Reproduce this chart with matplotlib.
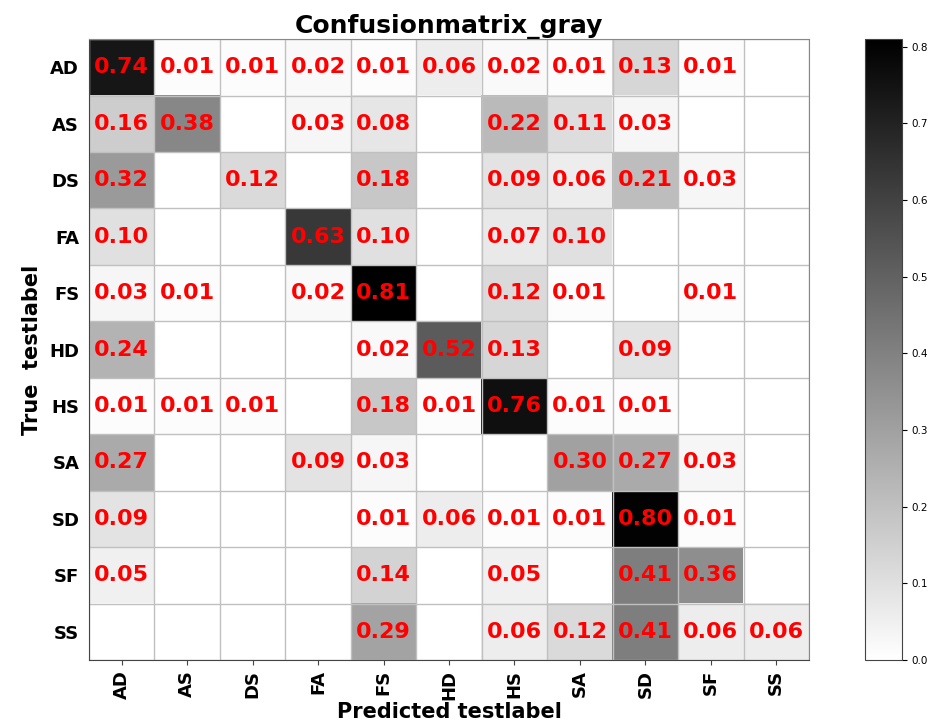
import numpy as np
import matplotlib
matplotlib.use("Agg")
from matplotlib import pyplot as plt

labels = ['AD', 'AS', 'DS', 'FA', 'FS', 'HD', 'HS', 'SA', 'SD', 'SF', 'SS']

# rows = true label, cols = predicted label
row_AD = [0.74, 0.01, 0.01, 0.02, 0.01, 0.06, 0.02, 0.01, 0.13, 0.01, 0.00]
row_AS = [0.16, 0.38, 0.00, 0.03, 0.08, 0.00, 0.22, 0.11, 0.03, 0.00, 0.00]
row_DS = [0.32, 0.00, 0.12, 0.00, 0.18, 0.00, 0.09, 0.06, 0.21, 0.03, 0.00]
row_FA = [0.10, 0.00, 0.00, 0.63, 0.10, 0.00, 0.07, 0.10, 0.00, 0.00, 0.00]
row_FS = [0.03, 0.01, 0.00, 0.02, 0.81, 0.00, 0.12, 0.01, 0.00, 0.01, 0.00]
row_HD = [0.24, 0.00, 0.00, 0.00, 0.02, 0.52, 0.13, 0.00, 0.09, 0.00, 0.00]
row_HS = [0.01, 0.01, 0.01, 0.00, 0.18, 0.01, 0.76, 0.01, 0.01, 0.00, 0.00]
row_SA = [0.27, 0.00, 0.00, 0.09, 0.03, 0.00, 0.00, 0.30, 0.27, 0.03, 0.00]
row_SD = [0.09, 0.00, 0.00, 0.00, 0.01, 0.06, 0.01, 0.01, 0.80, 0.01, 0.00]
row_SF = [0.05, 0.00, 0.00, 0.00, 0.14, 0.00, 0.05, 0.00, 0.41, 0.36, 0.00]
row_SS = [0.00, 0.00, 0.00, 0.00, 0.29, 0.00, 0.06, 0.12, 0.41, 0.06, 0.06]

cm = np.array([row_AD, row_AS, row_DS, row_FA, row_FS, row_HD,
               row_HS, row_SA, row_SD, row_SF, row_SS])

fig = plt.figure(figsize=(9.29, 7.22), dpi=100)
ax = fig.add_axes([0.0958, 0.0859, 0.775, 0.860])
cax = fig.add_axes([0.931, 0.0859, 0.0398, 0.860])

im = ax.imshow(cm, cmap='gray_r', aspect='auto', interpolation='nearest')

# 单元格数值
for i in range(cm.shape[0]):
    for j in range(cm.shape[1]):
        if cm[i, j] > 0:
            ax.text(j, i, "%.2f" % cm[i, j], ha='center', va='center',
                    color='red', fontsize=16, fontweight='bold')

ax.set_xticks(np.arange(len(labels)))
ax.set_yticks(np.arange(len(labels)))
ax.set_xticklabels(labels, rotation=90, fontsize=13, fontweight='bold')
ax.set_yticklabels(labels, fontsize=13, fontweight='bold')
ax.set_xticks(np.arange(-0.5, len(labels), 1), minor=True)
ax.set_yticks(np.arange(-0.5, len(labels), 1), minor=True)
ax.grid(which='minor', color='#c0c0c0', linewidth=1)
ax.tick_params(which='minor', length=0)
ax.tick_params(axis='x', colors='#444444', labelcolor='black')
ax.tick_params(axis='y', length=0, pad=7)
for s in ax.spines.values():
    s.set_color('#888888')
ax.spines['left'].set_color('#444444')
ax.spines['bottom'].set_color('#444444')

ax.set_title("Confusionmatrix_gray", fontsize=18, fontweight='bold', pad=2)
ax.set_xlabel("Predicted testlabel", fontsize=15, fontweight='bold', labelpad=2)
ax.set_ylabel("True  testlabel", fontsize=15, fontweight='bold', labelpad=5)

cb = fig.colorbar(im, cax=cax)
cb.set_ticks([0.0, 0.1, 0.2, 0.3, 0.4, 0.5, 0.6, 0.7, 0.8])
cb.ax.tick_params(labelsize=7.5)
cb.outline.set_edgecolor('#444444')

plt.savefig("out.png", dpi=100)
